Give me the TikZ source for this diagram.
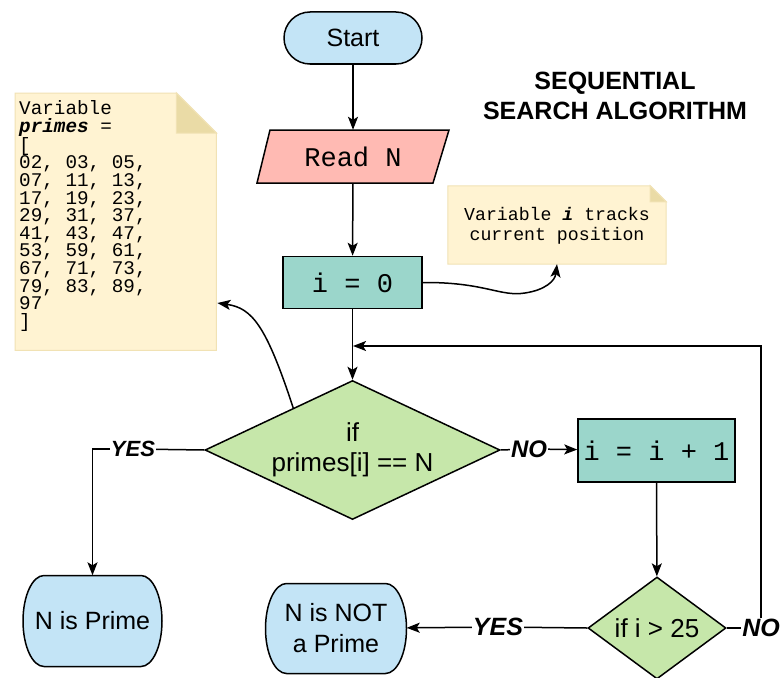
\documentclass[tikz,border=0pt]{standalone}
\usepackage{fontspec}
\setmainfont{Liberation Sans}
\setmonofont{Liberation Mono}
\usetikzlibrary{shapes.geometric,arrows.meta,calc}

\definecolor{termblue}{HTML}{C3E4F6}
\definecolor{readred}{HTML}{FFBAB3}
\definecolor{procteal}{HTML}{9BD6CB}
\definecolor{decgreen}{HTML}{C6E7AA}
\definecolor{notefill}{HTML}{FFF3D2}
\definecolor{noteline}{HTML}{F1E2B4}
\definecolor{notefold}{HTML}{EADBA6}

\tikzset{
  lw/.style={line width=1.5pt},
  term/.style={lw, draw=black, fill=termblue, align=center, inner sep=0pt,
    font=\fontsize{25}{31}\selectfont},
  termtext/.style={align=center, inner sep=0pt, font=\fontsize{25}{31}\selectfont},
  termshape/.style={lw, draw=black, fill=termblue},
  proc/.style={lw, draw=black, fill=procteal, inner sep=0pt,
    font=\ttfamily\fontsize{27}{30}\selectfont},
  dec/.style={lw, draw=black, fill=decgreen, diamond, inner sep=0pt,
    align=center, font=\fontsize{26}{30}\selectfont},
  lbl/.style={fill=white, inner sep=1pt, font=\bfseries\itshape\fontsize{25}{25}\selectfont},
  arr/.style={lw, -{Stealth[length=13pt,width=10pt,inset=3pt]}},
  conn/.style={lw},
  notetext/.style={inner sep=0pt, font=\ttfamily\fontsize{19.3}{17.6}\selectfont, align=left},
}

% terminator outline with half-elliptic ends: centre x, centre y, half width, half height, end radius
\newcommand{\termoutline}[5]{%
  \path[termshape] (#1-#3+#5,#2-#4) -- (#1+#3-#5,#2-#4)
    arc[start angle=-90, end angle=90, x radius=#5, y radius=#4]
    -- (#1-#3+#5,#2+#4)
    arc[start angle=90, end angle=270, x radius=#5, y radius=#4] -- cycle;}

\begin{document}
\begin{tikzpicture}[x=1pt,y=-1pt]
\useasboundingbox[fill=white] (0,0) rectangle (781,677);

% ---- title ----
\node[font=\bfseries\fontsize{25}{30}\selectfont, align=center, inner sep=0pt]
  (title) at (615,96) {SEQUENTIAL\\SEARCH ALGORITHM};

% ---- main chain ----
\node[term, minimum width=138pt, minimum height=52pt, rounded corners=26pt]
  (start) at (353,38) {Start};

\path[lw, draw=black, fill=readred] (270,130) -- (449,130) -- (433,183) -- (257,183) -- cycle;
\node[inner sep=0pt, minimum width=170pt, minimum height=53pt,
  font=\ttfamily\fontsize{27}{30}\selectfont] (readN) at (353,156.5) {Read N};

\node[proc, minimum width=139pt, minimum height=52pt] (i0) at (352.5,282.5) {i = 0};

\node[dec, minimum width=295pt, minimum height=139pt, shape aspect=2.12]
  (d1) at (352.5,450) {if\\primes[i] == N};

\node[proc, minimum width=157pt, minimum height=63pt] (inc) at (656.5,450.5) {i = i + 1};

\node[dec, minimum width=138pt, minimum height=102pt, shape aspect=1.35]
  (d2) at (657,628) {if i > 25};

\termoutline{92.5}{621}{69.5}{45.5}{21}
\node[termtext, minimum width=139pt, minimum height=91pt] (prime) at (92.5,621) {N is Prime};
\termoutline{336}{628.5}{70.5}{45}{21}
\node[termtext, minimum width=141pt, minimum height=90pt] (notprime) at (336,628.5) {N is NOT\\a Prime};

% ---- notes ----
\node[inner sep=0pt, minimum width=201pt, minimum height=257pt, anchor=north west]
  (notep) at (15,93) {};
\path[draw=noteline, line width=1pt, fill=notefill]
  (notep.north west) -- ($(notep.north east)+(-40,0)$) -- ($(notep.north east)+(0,40)$)
  -- (notep.south east) -- (notep.south west) -- cycle;
\path[draw=noteline, line width=1pt, fill=notefold]
  ($(notep.north east)+(-40,0)$) -- ($(notep.north east)+(-40,40)$) -- ($(notep.north east)+(0,40)$) -- cycle;
\node[notetext, anchor=north west] (primelist) at (19,100.5)
  {Variable\\\textbf{\textit{primes}} =\\{[}\\02, 03, 05,\\07, 11, 13,\\17, 19, 23,\\29, 31, 37,\\41, 43, 47,\\53, 59, 61,\\67, 71, 73,\\79, 83, 89,\\97\\{]}};

\node[inner sep=0pt, minimum width=218pt, minimum height=78pt] (notei) at (557,225) {};
\path[draw=noteline, line width=1pt, fill=notefill]
  (notei.north west) -- ($(notei.north east)+(-16,0)$) -- ($(notei.north east)+(0,16)$)
  -- (notei.south east) -- (notei.south west) -- cycle;
\path[draw=noteline, line width=1pt, fill=notefold]
  ($(notei.north east)+(-16,0)$) -- ($(notei.north east)+(-16,16)$) -- ($(notei.north east)+(0,16)$) -- cycle;
\node[inner sep=0pt, align=center, font=\ttfamily\fontsize{18.2}{20}\selectfont]
  (itext) at (557,226) {Variable \textbf{\textit{i}} tracks\\current position};

% ---- branch labels ----
\node[lbl, font=\bfseries\itshape\fontsize{22}{22}\selectfont] (yes1) at (133,449) {YES};
\node[lbl, font=\bfseries\itshape\fontsize{24}{24}\selectfont] (no1) at (529,449) {NO};
\node[lbl] (yes2) at (498,627) {YES};
\node[lbl] (no2) at (761,628) {NO};
\coordinate (loopin) at (353,346);

% ---- connectors ----
\draw[arr] (start) -- (readN);
\draw[arr] (readN) -- (i0);
\draw[arr] (i0) -- (d1);
\draw[arr] (inc) -- (d2);

\draw[conn] (d1.west) -- (yes1);
\draw[arr] (yes1) -| (prime.north);
\draw[conn] (d1.east) -- (no1);
\draw[arr] (no1) -- (inc);

\draw[conn] (d2.west) -- (yes2);
\draw[arr] (yes2) -- (notprime);
\draw[conn] (d2.east) -- (no2);
\draw[arr] (no2.north) |- (loopin);

\draw[arr] ($(d1.west)!0.6!(d1.north)$) .. controls (266,325) and (252,308) .. ($(notep.north east)+(1,210)$);
\draw[arr] (i0.east) .. controls (485,282) and (500,297) .. (525,293)
  .. controls (545,290) and (555,281) .. (notei.south);

\end{tikzpicture}
\end{document}
